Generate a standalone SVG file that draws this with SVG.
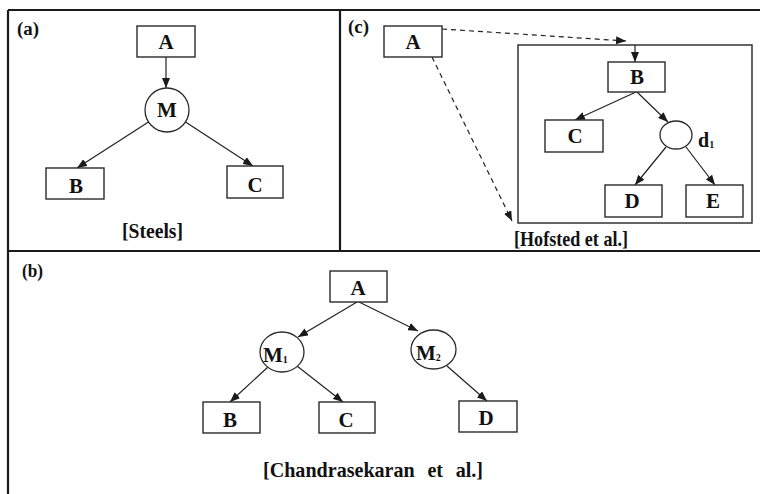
<svg xmlns="http://www.w3.org/2000/svg" width="760" height="494" viewBox="0 0 760 494">
  <style>
    .frame { fill: none; stroke: #1a1a1a; stroke-width: 2.2; }
    .box { fill: #fff; stroke: #2a2a2a; stroke-width: 1.4; }
    .node-circle { fill: #fff; stroke: #2a2a2a; stroke-width: 1.3; }
    .edge { fill: none; stroke: #222; stroke-width: 1.2; marker-end: url(#arrow); }
    .dashed { stroke-dasharray: 5 4; }
    text { font-family: "Liberation Serif", "Times New Roman", serif; font-weight: bold; fill: #111; }
    .lbl { font-size: 21px; text-anchor: middle; }
    .panel { font-size: 18px; }
    .cite { font-size: 21px; }
    .sub { font-size: 10px; }
  </style>
  <defs>
    <marker id="arrow" viewBox="0 0 10 8" refX="10" refY="4" markerWidth="10" markerHeight="8" markerUnits="userSpaceOnUse" orient="auto">
      <path d="M0,0 L10,4 L0,8 Z" fill="#1a1a1a"/>
    </marker>
  </defs>

  <rect width="760" height="494" fill="#fff"/>

  <!-- panel frames -->
  <g id="frames">
    <path class="frame" d="M8,10 H760 M8,10 V494 M8,251 H760 M340,10 V251"/>
    <rect class="frame" x="518" y="45" width="234" height="178" style="stroke-width:1.5;stroke:#333"/>
  </g>

  <!-- connectors -->
  <g id="connectors">
    <!-- (a) -->
    <line class="edge" x1="166" y1="57" x2="166" y2="88"/>
    <line class="edge" x1="148.5" y1="122" x2="77" y2="168"/>
    <line class="edge" x1="185.5" y1="122" x2="253" y2="166"/>
    <!-- (c) -->
    <line class="edge dashed" x1="442" y1="29" x2="626" y2="41"/>
    <line class="edge dashed" x1="432" y1="57" x2="512" y2="221"/>
    <line class="edge" x1="635" y1="45" x2="635" y2="62"/>
    <line class="edge" x1="636" y1="92" x2="575" y2="120"/>
    <line class="edge" x1="637" y1="92" x2="668" y2="122"/>
    <line class="edge" x1="666" y1="147" x2="635" y2="185"/>
    <line class="edge" x1="686" y1="147" x2="715" y2="185"/>
    <!-- (b) -->
    <line class="edge" x1="357" y1="302" x2="298" y2="337"/>
    <line class="edge" x1="359" y1="302" x2="418" y2="331"/>
    <line class="edge" x1="268" y1="367" x2="230" y2="402"/>
    <line class="edge" x1="297" y1="366" x2="343" y2="402"/>
    <line class="edge" x1="447" y1="366" x2="487" y2="401"/>
  </g>

  <!-- panel (a): Steels -->
  <text class="panel" x="17" y="35" textLength="22" lengthAdjust="spacingAndGlyphs">(a)</text>
  <g id="a-A"><rect class="box" x="137" y="26" width="58" height="31"/><text class="lbl" x="166" y="49">A</text></g>
  <g id="a-M"><circle class="node-circle" cx="167" cy="110" r="22"/><text class="lbl" x="167" y="117">M</text></g>
  <g id="a-B"><rect class="box" x="46" y="168" width="58" height="31"/><text class="lbl" x="76" y="193">B</text></g>
  <g id="a-C"><rect class="box" x="227" y="166" width="56" height="32"/><text class="lbl" x="255" y="192">C</text></g>
  <text class="cite" x="122" y="238" textLength="61" lengthAdjust="spacingAndGlyphs">[Steels]</text>

  <!-- panel (c): Hofsted et al. -->
  <text class="panel" x="348" y="33" textLength="21" lengthAdjust="spacingAndGlyphs">(c)</text>
  <g id="c-A"><rect class="box" x="384" y="26" width="58" height="31"/><text class="lbl" x="413" y="49">A</text></g>
  <g id="c-B"><rect class="box" x="608" y="62" width="57" height="30"/><text class="lbl" x="637" y="84">B</text></g>
  <g id="c-C"><rect class="box" x="545" y="120" width="58" height="32"/><text class="lbl" x="575" y="143">C</text></g>
  <g id="c-d1"><ellipse class="node-circle" cx="676" cy="135" rx="16" ry="14"/><text x="698" y="147" style="font-size:20px">d<tspan class="sub" dy="1">1</tspan></text></g>
  <g id="c-D"><rect class="box" x="605" y="185" width="57" height="32"/><text class="lbl" x="632" y="208">D</text></g>
  <g id="c-E"><rect class="box" x="686" y="185" width="57" height="32"/><text class="lbl" x="713" y="208">E</text></g>
  <text class="cite" x="514" y="246" textLength="114" lengthAdjust="spacingAndGlyphs">[Hofsted et al.]</text>

  <!-- panel (b): Chandrasekaran et al. -->
  <text class="panel" x="22" y="277" textLength="21" lengthAdjust="spacingAndGlyphs">(b)</text>
  <g id="b-A"><rect class="box" x="330" y="271" width="57" height="31"/><text class="lbl" x="358" y="295">A</text></g>
  <g id="b-M1"><ellipse class="node-circle" cx="282" cy="352" rx="22" ry="20"/><text x="263" y="362" style="font-size:21px">M<tspan class="sub" dy="1">1</tspan></text></g>
  <g id="b-M2"><ellipse class="node-circle" cx="433.5" cy="349.5" rx="22.5" ry="19.5"/><text x="416" y="360" style="font-size:21px">M<tspan class="sub" dy="1">2</tspan></text></g>
  <g id="b-B"><rect class="box" x="203" y="402" width="57" height="31"/><text class="lbl" x="230" y="427">B</text></g>
  <g id="b-C"><rect class="box" x="319" y="402" width="56" height="31"/><text class="lbl" x="346" y="427">C</text></g>
  <g id="b-D"><rect class="box" x="459" y="401" width="58" height="31"/><text class="lbl" x="486" y="425">D</text></g>
  <text class="cite" x="263" y="477" textLength="220" lengthAdjust="spacingAndGlyphs" word-spacing="8">[Chandrasekaran et al.]</text>
</svg>
